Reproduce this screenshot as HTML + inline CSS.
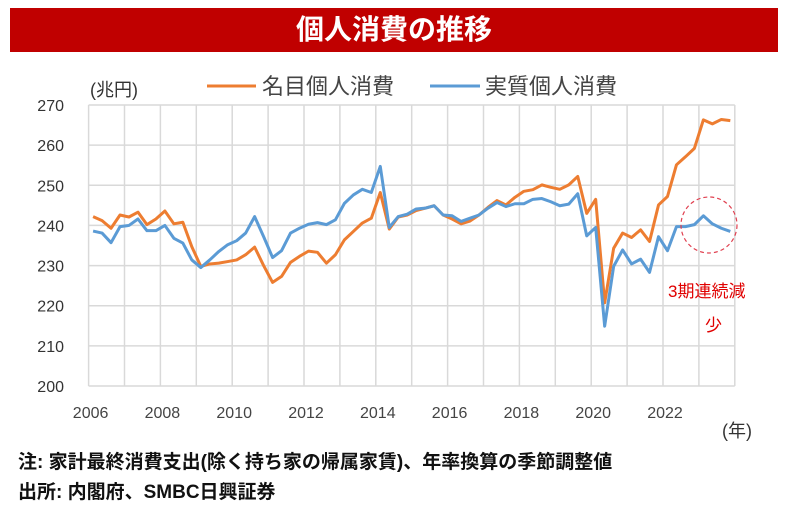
<!DOCTYPE html>
<html><head><meta charset="utf-8"><style>
body{margin:0;width:790px;height:512px;background:#fff;overflow:hidden;font-family:"Liberation Sans","Noto Sans CJK JP",sans-serif;}
#title{position:absolute;left:10px;top:8px;width:768px;height:44px;background:#c00000;color:#fff;font-weight:bold;font-size:28px;line-height:44px;text-align:center;}
.note{position:absolute;left:18px;font-size:19px;font-weight:bold;color:#111;white-space:nowrap;}
</style></head><body>
<div id="title">個人消費の推移</div>
<svg id="chart" width="790" height="512" style="position:absolute;left:0;top:0"></svg>
<div class="note" style="top:447px">注: 家計最終消費支出(除く持ち家の帰属家賃)、年率換算の季節調整値</div>
<div class="note" style="top:477px">出所: 内閣府、SMBC日興証券</div>
<script>
const yTicks=[200,210,220,230,240,250,260,270];
const xTickLabels=["2006","2008","2010","2012","2014","2016","2018","2020","2022"];
const startYear=2006;
const nominal=[242.2,241.2,239.3,242.6,242.1,243.3,240.2,241.6,243.6,240.4,240.8,234.7,229.8,230.4,230.6,231.0,231.4,232.7,234.6,230.0,225.8,227.3,230.8,232.3,233.6,233.3,230.6,232.7,236.4,238.5,240.6,241.8,248.2,239.1,242.1,242.6,243.7,244.3,244.9,242.6,241.6,240.4,241.1,242.6,244.5,246.2,245.1,247.0,248.5,248.9,250.1,249.5,249.0,250.1,252.2,243.0,246.5,220.7,234.3,238.1,237.0,238.9,236.0,245.1,247.2,255.1,257.1,259.2,266.3,265.3,266.4,266.1];
const real=[238.6,238.1,235.7,239.7,240.0,241.6,238.7,238.7,240.0,236.8,235.6,231.4,229.5,231.4,233.5,235.2,236.2,238.1,242.2,237.2,232.0,233.7,238.1,239.3,240.3,240.7,240.2,241.4,245.5,247.6,249.0,248.2,254.7,239.5,242.2,242.8,244.1,244.3,244.9,242.6,242.4,241.0,241.8,242.6,244.3,245.7,244.7,245.4,245.4,246.5,246.7,245.9,244.9,245.3,247.9,237.4,239.5,214.9,229.8,233.9,230.4,231.6,228.3,237.2,233.7,239.7,239.7,240.2,242.4,240.4,239.3,238.5];
const NS="http://www.w3.org/2000/svg";
const svg=document.getElementById('chart');
const X0=88.6,YW=35.9,Y0=386,YT=105;
const yScale=v=>Y0-(v-200)*(Y0-YT)/70;
const xYear=y=>X0+(y-startYear)*YW;
const xQ=i=>X0+(i+0.5)*YW/4;
function mk(t,a){const e=document.createElementNS(NS,t);for(const k in a)e.setAttribute(k,a[k]);svg.appendChild(e);return e;}
for(let y=startYear;y<=2024;y++){const l=mk('line',{x1:xYear(y),x2:xYear(y),y1:YT,y2:Y0,stroke:'#d9d9d9','stroke-width':1.5});

}
yTicks.forEach(v=>{const l=mk('line',{x1:X0,x2:xYear(2024),y1:yScale(v),y2:yScale(v),stroke:'#d9d9d9','stroke-width':1.5});


const t=mk('text',{x:64,y:yScale(v)+6,'text-anchor':'end','font-size':16,fill:'#333'});t.textContent=v;

});
xTickLabels.forEach(s=>{const t=mk('text',{x:xYear(+s)+2,y:418,'text-anchor':'middle','font-size':16,fill:'#444'});t.textContent=s;

});
function series(d,c,n){const p=mk('polyline',{points:d.map((v,i)=>xQ(i)+','+yScale(v)).join(' '),fill:'none',stroke:c,'stroke-width':3,'stroke-linejoin':'round'});

}
series(nominal,'#ED7D31','nominal-line');
series(real,'#5B9BD5','real-line');
const c=mk('circle',{cx:709,cy:225,r:28,fill:'none',stroke:'#e04050','stroke-width':1.2,'stroke-dasharray':'4,3'});


function txt(x,y,s,a){const t=mk('text',Object.assign({x:x,y:y},a));t.textContent=s;return t;}
let t;
t=txt(668,297,'3期連続減',{'font-size':17,fill:'#e00000'});


t=txt(705,331,'少',{'font-size':17,fill:'#e00000'});


t=txt(90,96,'(兆円)',{'font-size':18,fill:'#333'});


t=txt(722,437,'(年)',{'font-size':18,fill:'#333'});


let l=mk('line',{x1:207,x2:256,y1:86,y2:86,stroke:'#ED7D31','stroke-width':3});


t=txt(262,94,'名目個人消費',{'font-size':22,fill:'#444'});


l=mk('line',{x1:430,x2:480,y1:86,y2:86,stroke:'#5B9BD5','stroke-width':3});


t=txt(485,94,'実質個人消費',{'font-size':22,fill:'#444'});


</script>
</body></html>
